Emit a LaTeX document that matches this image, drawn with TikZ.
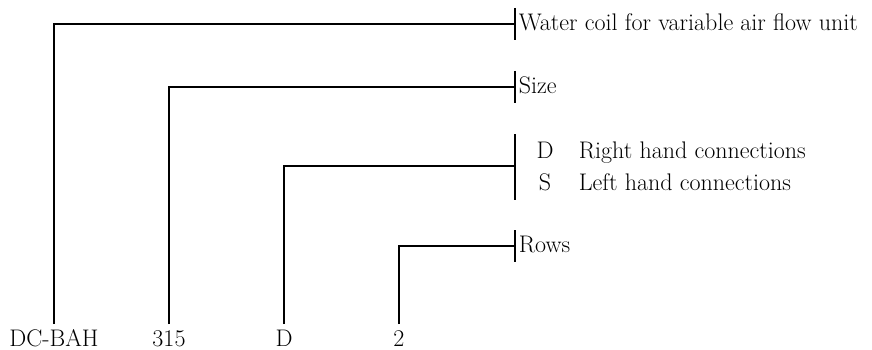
\documentclass[tikz,border=0pt]{standalone}
\usetikzlibrary{positioning}
\begin{document}
\begin{tikzpicture}[x=1pt, y=-1pt, font=\fontsize{24}{28}\selectfont, line width=1.7pt,
  code/.style={anchor=base, inner xsep=0pt, inner ysep=8pt, text height=13pt, text depth=0pt},
  desc/.style={anchor=base west, inner sep=0pt}]
\useasboundingbox (0,0) rectangle (872,350);
% code letters
\node[code] (type) at (54,346) {DC-BAH};
\node[code] (size) at (169,346) {315};
\node[code] (hand) at (284,346) {D};
\node[code] (rows) at (399,346) {2};
% bar ends
\coordinate (btype) at (515,24);
\coordinate (bsize) at (515,87);
\coordinate (bhand) at (515,166);
\coordinate (brows) at (515,246);
% meanings
\node[desc] (tdesc) at (518,31) {Water coil for variable air flow unit};
\node[desc] (sdesc) at (518,94) {Size};
\node[anchor=base, inner sep=0pt] (dkey) at (545,158) {D};
\node[anchor=base, inner sep=0pt] (skey) at (545,190) {S};
\node[desc] (ddesc) at (578,158) {Right hand connections};
\node[desc] (sleft) at (578,190) {Left hand connections};
\node[desc] (rdesc) at (518,252) {Rows};
% connectors
\draw (type.north) |- (btype);
\draw (size.north) |- (bsize);
\draw (hand.north) |- (bhand);
\draw (rows.north) |- (brows);
\draw (btype) ++(0,-16) -- ++(0,32);
\draw (bsize) ++(0,-16) -- ++(0,32);
\draw (bhand) ++(0,-32) -- ++(0,66);
\draw (brows) ++(0,-16) -- ++(0,32);
\end{tikzpicture}
\end{document}
